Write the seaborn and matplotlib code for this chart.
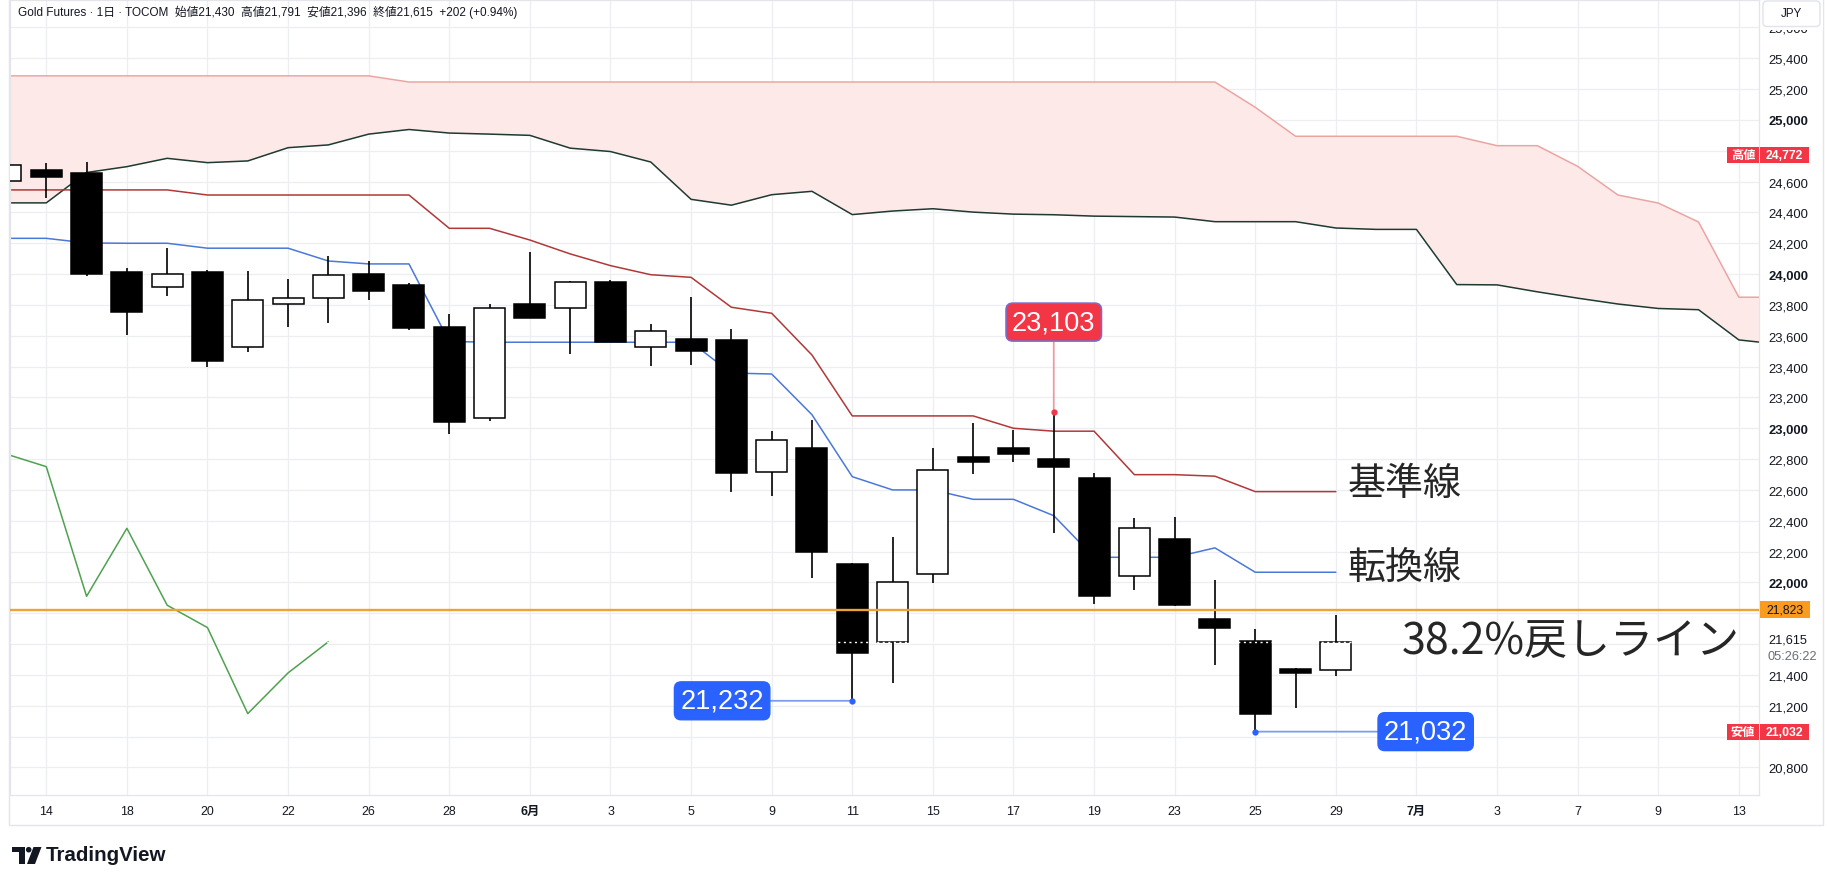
import numpy as np
import pandas as pd
import seaborn as sns
import matplotlib.pyplot as plt
import matplotlib.transforms as mtransforms
from matplotlib.patches import Rectangle, FancyBboxPatch, Polygon, Circle

# ---- daily bars (index 0 = 14 May, -1 = 13 May which is cut off at the left edge)
bar_idx = list(range(-1, 33))
opens = [24606, 24675, 24656, 24012, 23915, 24012, 23525, 23804, 23843, 23999,
         23929, 23657, 23065, 23806, 23778, 23949, 23525, 23579, 23575, 22715,
         22870, 22120, 21612, 22053, 22814, 22870, 22801, 22678, 22040, 22282,
         21763, 21620, 21439, 21430]
highs = [24772, 24721, 24727, 24038, 24169, 24027, 24020, 23968, 24118, 24085,
         23942, 23741, 23806, 24142, 23953, 23964, 23675, 23850, 23644, 22982,
         23056, 22125, 22293, 22870, 23034, 22991, 23103, 22710, 22418, 22425,
         22016, 21696, 21445, 21791]
lows = [24560, 24496, 23990, 23607, 23860, 23400, 23497, 23659, 23685, 23834,
        23640, 22965, 23049, 23712, 23480, 23558, 23402, 23413, 22585, 22559,
        22029, 21232, 21346, 21997, 22706, 22783, 22323, 21858, 21953, 21850,
        21467, 21032, 21188, 21396]
closes = [24708, 24632, 24001, 23752, 23999, 23438, 23830, 23843, 23992, 23893,
          23652, 23043, 23778, 23717, 23947, 23562, 23629, 23503, 22708, 22922,
          22200, 21545, 22001, 22728, 22783, 22833, 22751, 21910, 22351, 21852,
          21707, 21149, 21413, 21615]

# ---- ichimoku
tenkan = [24232, 24232, 24202, 24200, 24200, 24168, 24168, 24168, 24085, 24066,
          24066, 23563, 23558, 23558, 23558, 23558, 23558, 23558, 23358, 23352,
          23088, 22686, 22600, 22600, 22539, 22539, 22433, 22163, 22163, 22163,
          22224, 22066, 22066, 22066]
kijun = [24546, 24546, 24546, 24546, 24546, 24513, 24513, 24513, 24513, 24513,
         24513, 24297, 24297, 24221, 24131, 24055, 23996, 23979, 23785, 23746,
         23475, 23080, 23080, 23080, 23080, 23000, 22981, 22981, 22699, 22699,
         22689, 22589, 22589, 22589]
cloud_idx = list(range(-1, 44))
span_a = [24462, 24462, 24659, 24697, 24751, 24723, 24734, 24820, 24838, 24908,
          24938, 24915, 24908, 24900, 24817, 24795, 24727, 24485, 24447, 24515,
          24537, 24386, 24409, 24424, 24402, 24389, 24385, 24376, 24373, 24370,
          24340, 24340, 24340, 24299, 24290, 24290, 23932, 23930, 23885, 23844,
          23806, 23777, 23769, 23573, 23545]
span_b = [25286] * 10 + [25246] * 21 + [25082, 24894, 24894, 24894, 24894, 24894,
                                        24833, 24833, 24699, 24513, 24461, 24338,
                                        23850, 23850]
chikou_idx = list(range(-1, 8))
chikou = [22833, 22751, 21910, 22351, 21852, 21707, 21149, 21413, 21615]

xtick_pos = list(range(0, 43, 2))
xtick_labels = ['14', '18', '20', '22', '26', '28', '6月', '3', '5', '9', '11',
                '15', '17', '19', '23', '25', '29', '7月', '3', '7', '9', '13']

retrace_level = 21823
peak_bar = 25
trough_bars = [20, 30]

# ---- figure
W, H = 1827, 887
sns.set_theme(style='white')
plt.rcParams['font.family'] = ['Liberation Sans', 'Noto Sans CJK JP']
plt.rcParams['axes.unicode_minus'] = False

fig = plt.figure(figsize=(W / 100, H / 100), dpi=100)
fig.patch.set_facecolor('white')
ax = fig.add_axes([10 / W, (H - 796) / H, (1759 - 10) / W, 795 / H])
ax.set_facecolor('white')

df = pd.DataFrame(dict(idx=bar_idx, open=opens, high=highs, low=lows, close=closes))
up = df['close'] >= df['open']

# cloud
ax.fill_between(cloud_idx, span_a, span_b, color='#fde9e8', lw=0, zorder=1)
sns.lineplot(x=cloud_idx, y=span_b, color='#eaa5a3', lw=1.1, ax=ax, zorder=2)
sns.lineplot(x=cloud_idx, y=span_a, color='#1f3a31', lw=1.1, ax=ax, zorder=2)
# conversion / base / lagging
sns.lineplot(x=bar_idx, y=tenkan, color='#4a78d8', lw=1.1, ax=ax, zorder=2)
sns.lineplot(x=bar_idx, y=kijun, color='#b03838', lw=1.1, ax=ax, zorder=2)
sns.lineplot(x=chikou_idx, y=chikou, color='#4ea24e', lw=1.1, ax=ax, zorder=2)

# candles
ax.vlines(df['idx'], df['low'], df['high'], color='black', lw=1.2, zorder=3)
ax.bar(df['idx'], (df['close'] - df['open']).abs(),
       bottom=df[['open', 'close']].min(axis=1), width=0.77,
       color=np.where(up, 'white', 'black'), edgecolor='black', linewidth=1.1,
       zorder=4)

# last price dotted line and 38.2% line
ax.axhline(closes[-1], color='white', lw=1.0, ls=(0, (1.5, 2.5)), zorder=5)
ax.axhline(retrace_level, color='#eba43a', lw=1.7, zorder=6)

# axes
ax.set_xlim(-0.9, 42.5)
ax.set_ylim(20621, 25778)
yticks = np.arange(20800, 25601, 200)
hidden = {21000, 21600, 21800, 24800}
ax.set_yticks(yticks)
ax.set_yticklabels(['' if v in hidden else f'{v:,}' for v in yticks])
ax.yaxis.tick_right()
for t, v in zip(ax.get_yticklabels(), yticks):
    if v % 1000 == 0:
        t.set_fontweight('bold')
ax.set_xticks(xtick_pos)
ax.set_xticklabels(xtick_labels)
for t in ax.get_xticklabels():
    if '月' in t.get_text():
        t.set_fontweight('bold')
ax.tick_params(axis='both', length=0, labelcolor='#131722')
ax.tick_params(axis='x', pad=7, labelsize=8.9)
ax.tick_params(axis='y', pad=6.5, labelsize=9.4)
ax.grid(True, color='#eceef2', lw=0.9)
ax.set_axisbelow(True)
for s in ax.spines.values():
    s.set_color('#e3e5ea')
    s.set_linewidth(0.9)
ax.set_xlabel('')
ax.set_ylabel('')

# swing labels
ph = df.loc[df['idx'] == peak_bar, 'high'].iloc[0]
ax.annotate(f'{ph:,}', xy=(peak_bar, ph), xytext=(0, 65), textcoords='offset points',
            ha='center', va='center', fontsize=19.5, color='white', zorder=8,
            bbox=dict(boxstyle='round,pad=0.22,rounding_size=0.25', fc='#f23645',
                      ec='#7b6bc8', lw=1.2),
            arrowprops=dict(arrowstyle='-', color='#ee9aa2', lw=1.3, shrinkA=0, shrinkB=0))
ax.plot(peak_bar, ph, 'o', ms=3.5, color='#f23645', zorder=9)
for b, dx in zip(trough_bars, [-93.7, 122.7]):
    pl = df.loc[df['idx'] == b, 'low'].iloc[0]
    ax.annotate(f'{pl:,}', xy=(b, pl), xytext=(dx, 0), textcoords='offset points',
                ha='center', va='center', fontsize=19.5, color='white', zorder=8,
                bbox=dict(boxstyle='round,pad=0.22,rounding_size=0.25', fc='#2962ff',
                          ec='#2962ff', lw=1.0),
                arrowprops=dict(arrowstyle='-', color='#7f9cf2', lw=1.3, shrinkA=0, shrinkB=0))
    ax.plot(b, pl, 'o', ms=3.5, color='#2962ff', zorder=9)

# hand-written labels
jp = ['Noto Sans CJK JP', 'DejaVu Sans']
ax.text(32.28, 22639, '基準線', fontsize=27.4, family=jp, va='center', ha='left', zorder=8)
ax.text(32.28, 22091, '転換線', fontsize=27.4, family=jp, va='center', ha='left', zorder=8)
ax.text(33.63, 21620, '38.2%戻しライン', fontsize=31, family=jp, va='center', ha='left', zorder=8)

# price-axis tags (x in pixels, y in price)
yx = mtransforms.blended_transform_factory(mtransforms.IdentityTransform(), ax.transData)
ppx = (25778 - 20621) / 795.0


def tag(price, x0, x1, text, fc, tc, h=16, weight='bold'):
    fig.add_artist(Rectangle((x0, price - h * ppx / 2), x1 - x0, h * ppx, transform=yx,
                             fc=fc, ec='none', zorder=10))
    fig.text((x0 + x1) / 2, price, text, transform=yx, ha='center', va='center',
             fontsize=8.8, color=tc, weight=weight, zorder=11)


tag(max(highs), 1727, 1759, '高値', '#f23645', 'white')
tag(max(highs), 1760, 1809, f'{max(highs):,}', '#f23645', 'white')
tag(min(lows), 1727, 1759, '安値', '#f23645', 'white')
tag(min(lows), 1760, 1809, f'{min(lows):,}', '#f23645', 'white')
tag(retrace_level, 1760, 1810, f'{retrace_level:,}', '#f89b1e', '#131722', h=17, weight='normal')
fig.text(1768, closes[-1] + 2 * ppx, f'{closes[-1]:,}', transform=yx, ha='left',
         va='center', fontsize=9.2, color='#131722')
fig.text(1768, closes[-1] - 14 * ppx, '05:26:22', transform=yx, ha='left',
         va='center', fontsize=9.2, color='#6a6d78')

# JPY box (hides most of the top price label, as in the app)
fig.add_artist(Rectangle((1761, H - 31), 62, 30, transform=mtransforms.IdentityTransform(),
                         fc='white', ec='none', zorder=9))
fig.add_artist(FancyBboxPatch((1763, H - 27.5), 57, 25.5, boxstyle='round,pad=0,rounding_size=4',
                              transform=mtransforms.IdentityTransform(), fc='white',
                              ec='#e0e3eb', lw=1, zorder=10))
fig.text(1791.5, H - 14, 'JPY', transform=mtransforms.IdentityTransform(), ha='center',
         va='center', fontsize=8.4, color='#131722', zorder=11)

# outer frame
fig.add_artist(Rectangle((9, H - 826), 1823 - 9, 826, transform=mtransforms.IdentityTransform(),
                         fill=False, ec='#e3e5ea', lw=1, zorder=0))

# header
chg = closes[-1] - closes[-2]
pct = chg / closes[-2] * 100
header = (f'Gold Futures · 1日 · TOCOM  始値{opens[-1]:,}  高値{highs[-1]:,}  '
          f'安値{lows[-1]:,}  終値{closes[-1]:,}  {chg:+,} ({pct:+.2f}%)')
fig.text(18, H - 12, header, transform=mtransforms.IdentityTransform(), ha='left',
         va='center', fontsize=8.5, color='#131722', zorder=11)

# TradingView mark
idt = mtransforms.IdentityTransform()
for poly in ([(12, 848), (24.5, 848), (24.5, 865), (18.5, 865), (18.5, 853), (12, 853)],
             [(27, 865), (33.5, 848), (41.5, 848), (35, 865)]):
    fig.add_artist(Polygon([(x, H - y) for x, y in poly], closed=True, transform=idt,
                           fc='#131722', ec='none'))
fig.add_artist(Circle((28.7, H - 850.7), 2.8, transform=idt, fc='#131722', ec='none'))
fig.text(46, H - 856, 'TradingView', transform=idt, ha='left', va='center',
         fontsize=14.8, weight='bold', color='#131722')

fig.savefig('out.png', dpi=100, facecolor='white')
